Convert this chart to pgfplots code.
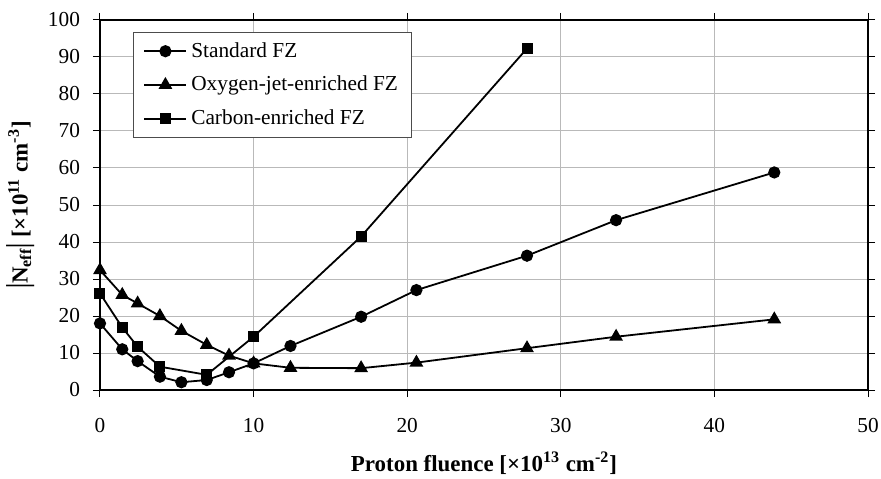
\documentclass[border=0pt]{standalone}
\usepackage{fontspec}
\setmainfont{Liberation Serif}
\usepackage{pgfplots}
\pgfplotsset{compat=1.18}

\begin{document}
\begin{tikzpicture}
\useasboundingbox (-50bp,-44.5bp) rectangle (390.5bp,195bp);
\begin{axis}[
  scale only axis, width=384bp, height=185bp,
  xmin=0, xmax=50, ymin=0, ymax=100,
  xtick={0,10,...,50}, ytick={0,10,...,100},
  tick align=outside, major tick length=3.5bp,
  tick style={black, line width=0.5bp},
  axis line style={black, line width=0.6bp},
  grid=major, grid style={gray!55, line width=0.5bp},
  /pgf/number format/assume math mode=true,
  tick label style={font=\fontsize{10.7}{12}\selectfont},
  xticklabel style={yshift=-7bp},
  yticklabel style={xshift=-3bp},
  label style={font=\fontsize{11.5}{13}\selectfont\bfseries},
  xlabel style={yshift=-3bp},
  xlabel={Proton fluence [×10\textsuperscript{13} cm\textsuperscript{-2}]},
  ylabel={\scalebox{1}[1.35]{|}N\textsubscript{eff}\scalebox{1}[1.35]{|} [×10\textsuperscript{11} cm\textsuperscript{-3}]},
  legend style={at={(0.043,0.968)}, anchor=north west, draw=gray!60!black,
    line width=0.5bp, font=\fontsize{10.7}{12}\selectfont, row sep=4bp,
    inner xsep=5bp, inner ysep=3bp},
  legend cell align=left,
  legend image code/.code={
    \draw[mark repeat=2, mark phase=2] plot coordinates {(0bp,0bp) (10.5bp,0bp) (21bp,0bp)};
  },
  every axis plot/.append style={black, line width=0.9bp, mark options={solid, fill=black}},
]
% Standard FZ
\addplot[mark=*, mark size=2.6bp] coordinates {
  (0,18.0) (1.45,11.0) (2.45,7.8) (3.9,3.6) (5.3,2.1) (6.95,2.7) (8.4,4.8)
  (10.0,7.2) (12.4,11.9) (17.0,19.8) (20.6,27.0) (27.8,36.3) (33.6,45.9) (43.9,58.8)
};
\addlegendentry{Standard FZ}
% Oxygen-jet-enriched FZ
\addplot[mark=triangle*, mark size=3.1bp] coordinates {
  (0,32.4) (1.45,25.7) (2.45,23.4) (3.9,20.0) (5.3,16.0) (6.95,12.2) (8.4,9.3)
  (10.0,7.2) (12.4,6.0) (17.0,5.9) (20.6,7.4) (27.8,11.3) (33.6,14.4) (43.9,19.1)
};
\addlegendentry{Oxygen-jet-enriched FZ}
% Carbon-enriched FZ
\addplot[mark=square*, mark size=2.3bp] coordinates {
  (0,26.1) (1.45,16.9) (2.45,11.7) (3.9,6.3) (6.95,4.1) (10.0,14.4) (17.0,41.5) (27.8,92.3)
};
\addlegendentry{Carbon-enriched FZ}
\end{axis}
\end{tikzpicture}
\end{document}
